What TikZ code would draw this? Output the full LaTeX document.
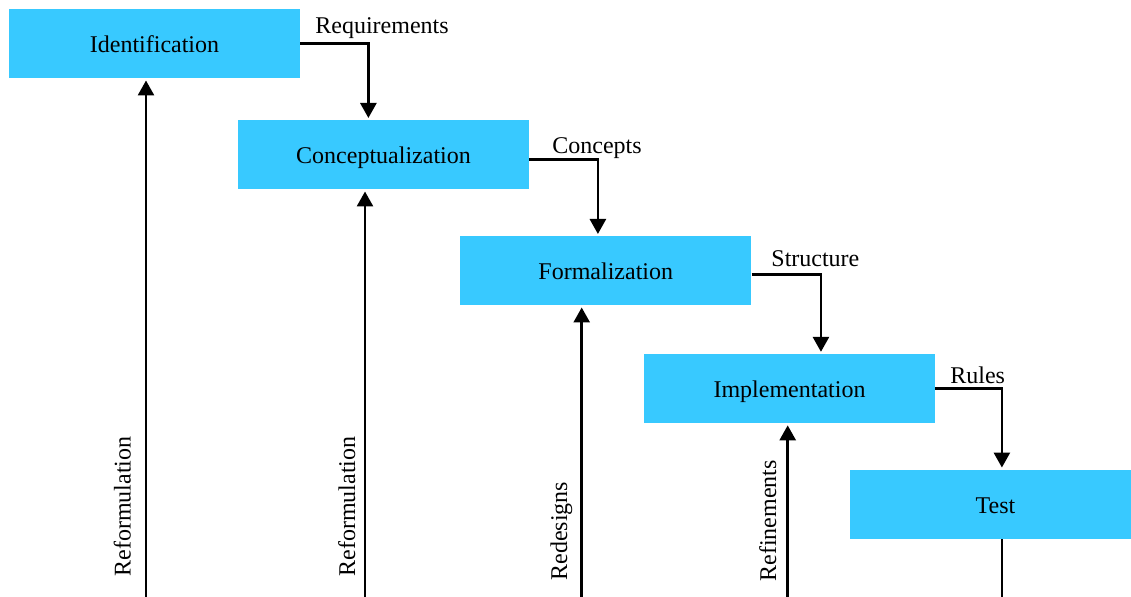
\documentclass[tikz,border=0pt]{standalone}
\usepackage{fontspec}
\setmainfont{Liberation Serif}
\usetikzlibrary{arrows.meta}
\definecolor{stageblue}{RGB}{56,201,255}
\begin{document}
\begin{tikzpicture}[x=0.5pt, y=-0.5pt, font=\fontsize{12}{14}\selectfont, line cap=butt,
		stage/.style={fill=stageblue, minimum width=145.5pt, minimum height=34.75pt, inner sep=0pt,
			text height=0.9em, text depth=0pt},
		flow/.style={line width=1.35pt, -{Triangle[length=7.5pt, width=8pt]}, shorten >=0.8pt},
		lab/.style={inner sep=0pt, anchor=base west},
		fblab/.style={inner sep=0pt, anchor=base west, rotate=90}]
			\clip (0,0) rectangle (1131,597);
			% === STAGES ===
			\node[stage] (ident) at (154.5,43.75) {Identification};
			\node[stage] (concept) at (383.5,154.75) {Conceptualization};
			\node[stage] (formal) at (605.75,270.75) {Formalization};
			\node[stage] (impl) at (789.5,388.6) {Implementation};
			\node[stage] (test) at (995.5,504.3) {Test};

			% === FORWARD ===
			\draw[flow] (ident.east) -- ++(68,0) coordinate (c1) -- (c1 |- concept.north);
			\draw[flow] ([yshift=-2.4pt]concept.east) -- ++(68.5,0) coordinate (c2) -- (c2 |- formal.north);
			\draw[flow] ([yshift=-1.9pt]formal.east) -- ++(69.3,0) coordinate (c3) -- (c3 |- impl.north);
			\draw[flow] (impl.east) -- ++(66.5,0) coordinate (c4) -- (c4 |- test.north);
			\node[lab] (lreq) at (315,33.3) {Requirements};
			\node[lab] (lcon) at (552,153.3) {Concepts};
			\node[lab] (lstr) at (771,266.7) {Structure};
			\node[lab] (lrul) at (950,384) {Rules};

			% === FEEDBACK ===
			\coordinate (f1) at (146,660);
			\coordinate (f2) at (365,660);
			\coordinate (f3) at (581.7,660);
			\coordinate (f4) at (787.7,660);
			\draw[flow] (f1) -- (f1 |- ident.south);
			\draw[flow] (f2) -- (f2 |- concept.south);
			\draw[flow] (f3) -- (f3 |- formal.south);
			\draw[flow] (f4) -- (f4 |- impl.south);
			\draw[line width=1.35pt] (test.south -| c4) -- ++(0,100);
			\node[fblab] (lref1) at (130.7,577) {Reformulation};
			\node[fblab] (lref2) at (355,577) {Reformulation};
			\node[fblab] (lred) at (567,581) {Redesigns};
			\node[fblab] (lrfn) at (776,582) {Refinements};
		\end{tikzpicture}
\end{document}
